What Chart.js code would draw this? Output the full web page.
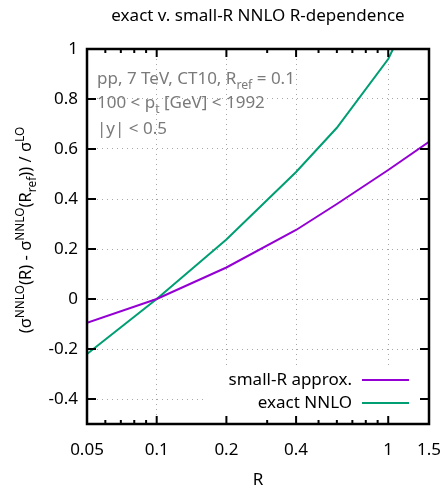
<!DOCTYPE html>
<html><head><meta charset="utf-8">
<script src="https://cdn.jsdelivr.net/npm/chart.js@4/dist/chart.umd.min.js"></script>
<style>html,body{margin:0;padding:0;background:#fff}</style>
</head><body>
<canvas id="c" width="444" height="487"></canvas>
<script>
// R values and the two curves
const radii = [0.05, 0.1, 0.2, 0.4, 0.6, 1.0, 1.5];
const smallR = [-0.095, 0, 0.126, 0.276, 0.38, 0.516, 0.629];
const exactNNLO = [-0.22, 0, 0.238, 0.508, 0.685, 0.96, 1.3];
const xTicks = [0.05, 0.1, 0.2, 0.4, 1, 1.5];
const xMinor = [0.06, 0.07, 0.08, 0.09, 0.3, 0.5, 0.6, 0.7, 0.8, 0.9];
const yTicks = [-0.4, -0.2, 0, 0.2, 0.4, 0.6, 0.8, 1];

const FONT = '"Noto Sans", "Open Sans", sans-serif';
const PURPLE = '#9400d3', GREEN = '#009e73';

// draw text made of pieces, some raised (1) or lowered (-1)
function rich(ctx, parts, x, y, size, align) {
    const small = size * 0.72;
    let w = 0;
    parts.forEach(p => {
        ctx.font = (p.s ? small : size) + 'px ' + FONT;
        p.w = ctx.measureText(p.t).width;
        w += p.w;
    });
    let cx = align === 'center' ? x - w / 2 : (align === 'right' ? x - w : x);
    ctx.textAlign = 'left';
    ctx.textBaseline = 'alphabetic';
    parts.forEach(p => {
        ctx.font = (p.s ? small : size) + 'px ' + FONT;
        let dy = p.s === 1 ? -size * 0.42 : (p.s === -1 ? size * 0.3 : 0);
        ctx.fillText(p.t, cx, y + dy);
        cx += p.w;
    });
}

const decor = {
    id: 'decor',
    beforeDatasetsDraw(chart) {
        // opaque key box
        const ctx = chart.ctx;
        ctx.save();
        ctx.fillStyle = '#fff';
        ctx.fillRect(205, 367, 222, 49);
        ctx.restore();
    },
    afterDraw(chart) {
        const ctx = chart.ctx, a = chart.chartArea;
        const xs = chart.scales.x, ys = chart.scales.y;
        ctx.save();
        // frame
        ctx.strokeStyle = '#000';
        ctx.lineWidth = 2.5;
        ctx.strokeRect(a.left, a.top, a.right - a.left, a.bottom - a.top);
        // ticks, inward
        ctx.lineWidth = 2;
        ctx.beginPath();
        xTicks.forEach(v => {
            const px = xs.getPixelForValue(v);
            ctx.moveTo(px, a.bottom); ctx.lineTo(px, a.bottom - 8);
            ctx.moveTo(px, a.top); ctx.lineTo(px, a.top + 8);
        });
        xMinor.forEach(v => {
            const px = xs.getPixelForValue(v);
            ctx.moveTo(px, a.bottom); ctx.lineTo(px, a.bottom - 4);
            ctx.moveTo(px, a.top); ctx.lineTo(px, a.top + 4);
        });
        yTicks.forEach(v => {
            const py = ys.getPixelForValue(v);
            ctx.moveTo(a.left, py); ctx.lineTo(a.left + 9, py);
            ctx.moveTo(a.right, py); ctx.lineTo(a.right - 9, py);
        });
        ctx.stroke();

        ctx.fillStyle = '#000';
        // title
        ctx.font = '17px ' + FONT;
        ctx.textAlign = 'center';
        ctx.textBaseline = 'middle';
        ctx.fillText('exact v. small-R NNLO R-dependence', (a.left + a.right) / 2, 16);
        // x label
        ctx.fillText('R', (a.left + a.right) / 2, 480);
        // y label
        ctx.save();
        ctx.translate(31, 230);
        ctx.rotate(-Math.PI / 2);
        rich(ctx, [
            {t: '(σ'}, {t: 'NNLO', s: 1}, {t: '(R) - σ'}, {t: 'NNLO', s: 1},
            {t: '(R'}, {t: 'ref', s: -1}, {t: ')) / σ'}, {t: 'LO', s: 1}
        ], 0, 0, 16.5, 'center');
        ctx.restore();

        // annotation
        ctx.fillStyle = '#7a7a7a';
        rich(ctx, [{t: 'pp, 7 TeV, CT10, R'}, {t: 'ref', s: -1}, {t: ' = 0.1'}], 97, 84, 17, 'left');
        rich(ctx, [{t: '100 < p'}, {t: 't', s: -1}, {t: ' [GeV] < 1992'}], 97, 108, 17, 'left');
        rich(ctx, [{t: '|y| < 0.5'}], 97, 134, 17, 'left');

        // key
        ctx.fillStyle = '#000';
        ctx.font = '17px ' + FONT;
        ctx.textAlign = 'right';
        ctx.textBaseline = 'middle';
        ctx.lineWidth = 2;
        [['small-R approx.', PURPLE, 380], ['exact NNLO', GREEN, 403]].forEach(k => {
            ctx.fillText(k[0], 352, k[2]);
            ctx.strokeStyle = k[1];
            ctx.beginPath();
            ctx.moveTo(362, k[2]); ctx.lineTo(409, k[2]);
            ctx.stroke();
        });
        ctx.restore();
    }
};

new Chart(document.getElementById('c'), {
    type: 'line',
    data: {
        datasets: [
            {
                label: 'small-R approx.',
                data: radii.map((r, i) => ({x: r, y: smallR[i]})),
                borderColor: PURPLE,
                borderWidth: 2,
                pointRadius: 0,
                fill: false
            },
            {
                label: 'exact NNLO',
                data: radii.map((r, i) => ({x: r, y: exactNNLO[i]})),
                borderColor: GREEN,
                borderWidth: 2,
                pointRadius: 0,
                fill: false
            }
        ]
    },
    options: {
        responsive: false,
        animation: false,
        layout: {padding: {left: 0, top: 49, right: 15, bottom: 0}},
        scales: {
            x: {
                type: 'logarithmic',
                min: 0.05,
                max: 1.5,
                afterBuildTicks: s => { s.ticks = xTicks.map(v => ({value: v})); },
                afterFit: s => { s.height = 63; s.paddingLeft = 0; s.paddingRight = 0; },
                ticks: {
                    callback: v => String(v),
                    font: {family: FONT, size: 17},
                    color: '#000',
                    padding: 16,
                    maxRotation: 0,
                    autoSkip: false
                },
                grid: {color: '#a8a8a8', lineWidth: 1, drawTicks: false},
                border: {display: false, dash: [1, 4]}
            },
            y: {
                min: -0.5,
                max: 1,
                afterBuildTicks: s => { s.ticks = yTicks.map(v => ({value: v})); },
                afterFit: s => { s.width = 87; s.paddingTop = 0; s.paddingBottom = 0; },
                ticks: {
                    callback: v => String(Math.round(v * 10) / 10),
                    font: {family: FONT, size: 17},
                    color: '#000',
                    padding: 9
                },
                grid: {color: '#a8a8a8', lineWidth: 1, drawTicks: false},
                border: {display: false, dash: [1, 4]}
            }
        },
        plugins: {
            legend: {display: false},
            tooltip: {enabled: false}
        }
    },
    plugins: [decor]
});
</script>
</body></html>
